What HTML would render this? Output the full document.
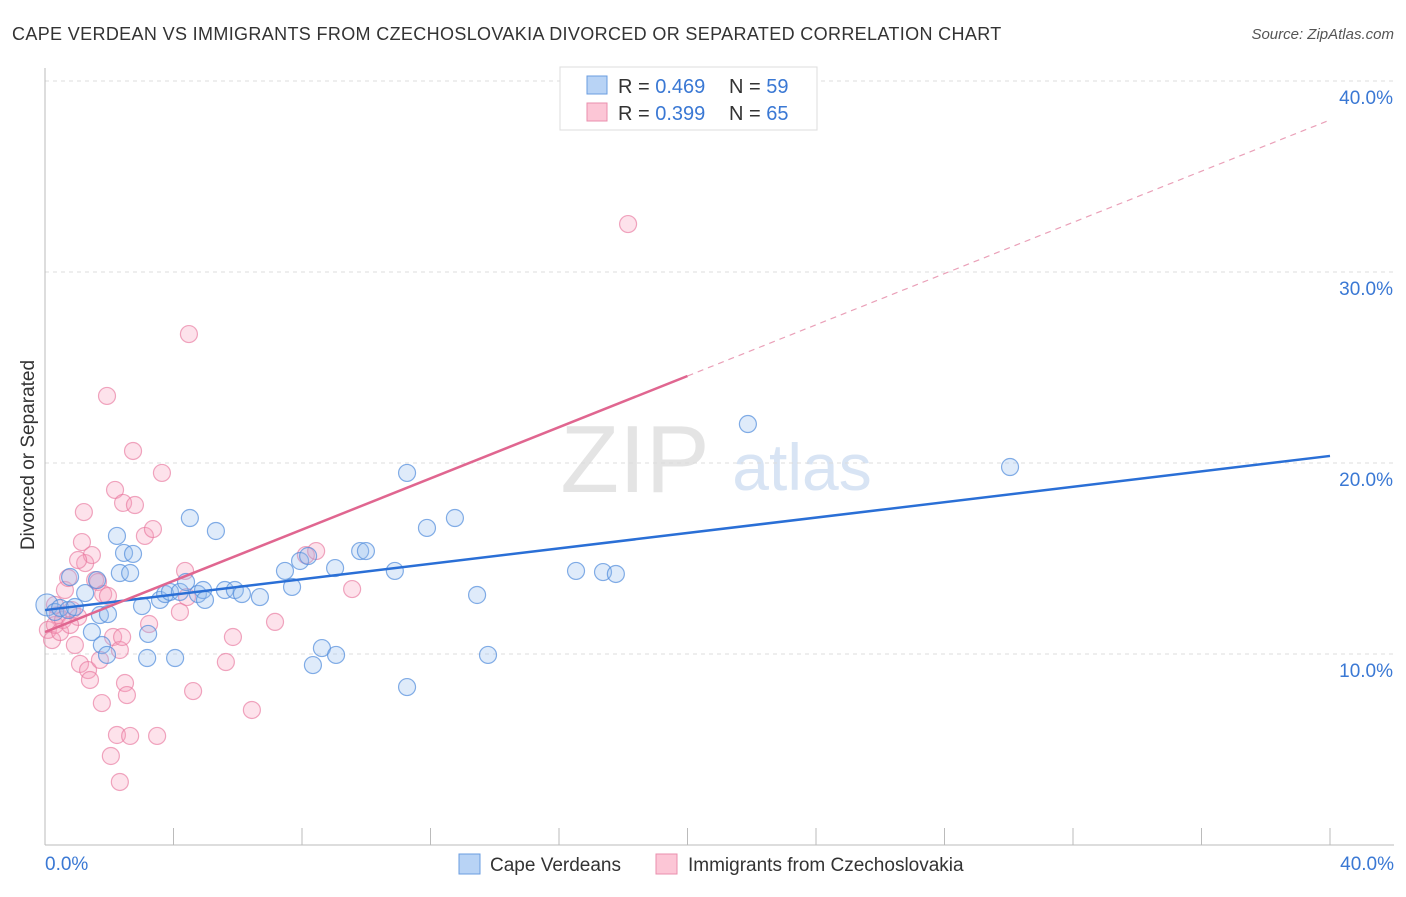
<!DOCTYPE html>
<html><head><meta charset="utf-8"><style>
body{margin:0;background:#fff;font-family:"Liberation Sans",sans-serif}
svg text{font-family:"Liberation Sans",sans-serif}
</style></head><body>
<svg id="chart" width="1406" height="892">
<text x="12" y="40" font-size="18" fill="#333" letter-spacing="0.35">CAPE VERDEAN VS IMMIGRANTS FROM CZECHOSLOVAKIA DIVORCED OR SEPARATED CORRELATION CHART</text>
<text x="1394" y="39" font-size="15" fill="#555" font-style="italic" text-anchor="end">Source: ZipAtlas.com</text>
<g>
<text x="635" y="492" font-size="96" fill="#e4e4e4" font-family="Liberation Serif" text-anchor="middle">ZIP</text>
<text x="802" y="490" font-size="66" fill="#d8e4f4" text-anchor="middle">atlas</text>
</g>
<g id="grid"></g>
<g id="axes"></g>
<text x="34" y="455" font-size="19" fill="#333" text-anchor="middle" transform="rotate(-90 34 455)">Divorced or Separated</text>
<g id="marks"></g>
<g id="lines"></g>
<g>
<rect x="560" y="67" width="257" height="63" fill="#fff" stroke="#ddd"/>
<rect x="587" y="76" width="20" height="18" fill="#b8d3f5" stroke="#6a9de0"/>
<rect x="587" y="103" width="20" height="18" fill="#fcc6d6" stroke="#ea8fad"/>
<text x="618" y="93" font-size="20" fill="#333">R = <tspan fill="#3a78d4">0.469</tspan></text>
<text x="729" y="93" font-size="20" fill="#333">N = <tspan fill="#3a78d4">59</tspan></text>
<text x="618" y="120" font-size="20" fill="#333">R = <tspan fill="#3a78d4">0.399</tspan></text>
<text x="729" y="120" font-size="20" fill="#333">N = <tspan fill="#3a78d4">65</tspan></text>
</g>
<g>
<rect x="459" y="854" width="21" height="20" fill="#b8d3f5" stroke="#6a9de0"/>
<text x="490" y="871" font-size="19" fill="#333">Cape Verdeans</text>
<rect x="656" y="854" width="21" height="20" fill="#fcc6d6" stroke="#ea8fad"/>
<text x="688" y="871" font-size="19" fill="#333">Immigrants from Czechoslovakia</text>
</g>
</svg>
<script>
const blueX=[0.06,0.31,0.47,0.72,0.93,0.78,1.25,1.62,1.71,1.96,1.46,1.77,1.93,2.24,2.46,2.74,2.33,2.65,3.02,3.21,3.18,3.58,3.74,3.89,4.20,4.39,4.05,4.51,4.76,4.92,4.98,5.32,5.60,5.91,6.13,6.69,7.47,7.69,7.94,8.19,8.34,8.62,9.03,9.06,9.81,9.99,10.89,11.27,11.27,11.89,12.76,13.45,13.79,16.53,17.37,17.77,21.88,30.04];
const blueY=[12.57,12.20,12.41,12.30,12.46,14.03,13.19,13.87,12.04,12.09,11.15,10.47,9.95,16.18,15.29,15.24,14.24,14.24,12.51,11.05,9.79,12.83,13.14,13.25,13.25,13.77,9.79,17.12,13.14,13.35,12.83,16.44,13.35,13.35,13.14,12.98,14.35,13.51,14.87,15.13,9.42,10.31,14.50,9.95,15.39,15.39,14.35,19.48,8.27,16.60,17.12,13.09,9.95,14.35,14.29,14.19,22.04,19.79];
const pinkX=[0.09,0.22,0.31,0.40,0.47,0.56,0.62,0.72,0.84,0.93,1.03,1.09,1.15,1.21,1.25,1.34,1.40,1.46,1.56,1.65,1.77,1.81,1.93,1.96,2.05,2.12,2.18,2.24,2.33,2.40,2.43,2.49,2.55,2.65,2.74,2.80,3.11,3.24,3.36,3.49,3.64,4.36,4.42,4.48,4.61,5.63,5.85,6.44,7.16,8.12,8.44,9.56,18.15,0.31,0.78,1.03,1.71,2.33,4.20];
const pinkY=[11.26,10.73,11.52,12.04,11.15,11.78,13.35,13.98,12.30,10.47,11.94,9.48,15.86,17.43,14.76,9.16,8.64,15.18,13.87,13.77,7.43,13.14,23.51,13.04,4.66,10.89,18.59,5.76,10.21,10.89,17.91,8.48,7.85,5.71,20.63,17.80,16.18,11.57,16.54,5.71,19.48,14.35,12.98,26.75,8.06,9.58,10.89,7.07,11.68,15.18,15.39,13.40,32.51,12.57,11.52,14.92,9.69,3.30,12.20];
const blueLine=[12.30,20.37];
const pinkLine=[11.15,37.96];
const pinkSolidEnd=20.0;
const yTicks=[10,20,30,40];
const yTickLabels=["10.0%","20.0%","30.0%","40.0%"];
const xTickLabels=["0.0%","40.0%"];
const X=v=>45+v*32.125, Y=v=>845-v*19.1;
const NS="http://www.w3.org/2000/svg";
function mk(t,a,p){const e=document.createElementNS(NS,t);for(const k in a)e.setAttribute(k,a[k]);p.appendChild(e);return e;}
const grid=document.getElementById('grid'),axes=document.getElementById('axes'),marks=document.getElementById('marks'),lines=document.getElementById('lines');
yTicks.forEach((t,i)=>{
 const l=mk('line',{x1:45,x2:1394,y1:Y(t),y2:Y(t),stroke:'#ddd','stroke-dasharray':'4,4'},grid);
 
 
 const tx=mk('text',{x:1393,y:Y(t)+23,'font-size':19,fill:'#3a78d4','text-anchor':'end'},axes);
 tx.textContent=yTickLabels[i];
 
 
});
mk('line',{x1:45,x2:45,y1:68,y2:845,stroke:'#bbb'},axes);
mk('line',{x1:45,x2:1394,y1:845,y2:845,stroke:'#bbb'},axes);
for(let i=1;i<=10;i++){const t=mk('line',{x1:X(i*4),x2:X(i*4),y1:828,y2:845,stroke:'#bbb'},axes);
 
 }
[[0,'start',45],[40,'end',1394]].forEach((d,i)=>{const t=mk('text',{x:d[2],y:870,'font-size':19,fill:'#3a78d4','text-anchor':d[1]},axes);t.textContent=xTickLabels[i];
 
 });
pinkX.forEach((x,i)=>{const c=mk('circle',{cx:X(x),cy:Y(pinkY[i]),r:8.5,fill:'rgba(247,160,188,0.3)',stroke:'rgba(232,120,158,0.65)','stroke-width':1.2},marks);
 
 });
blueX.forEach((x,i)=>{const c=mk('circle',{cx:X(x),cy:Y(blueY[i]),r:i==0?11:8.5,fill:'rgba(150,190,240,0.3)',stroke:'rgba(80,140,220,0.7)','stroke-width':1.2},marks);
 
 });
const pAt=x=>pinkLine[0]+(pinkLine[1]-pinkLine[0])*x/40;
let l1=mk('line',{x1:X(0),y1:Y(blueLine[0]),x2:X(40),y2:Y(blueLine[1]),stroke:'#2a6fd6','stroke-width':2.5},lines);


let l2=mk('line',{x1:X(0),y1:Y(pAt(0)),x2:X(pinkSolidEnd),y2:Y(pAt(pinkSolidEnd)),stroke:'#e06690','stroke-width':2.5},lines);


let l3=mk('line',{x1:X(pinkSolidEnd),y1:Y(pAt(pinkSolidEnd)),x2:X(40),y2:Y(pAt(40)),stroke:'#eaa0b8','stroke-width':1.2,'stroke-dasharray':'6,5'},lines);


</script>
</body></html>
